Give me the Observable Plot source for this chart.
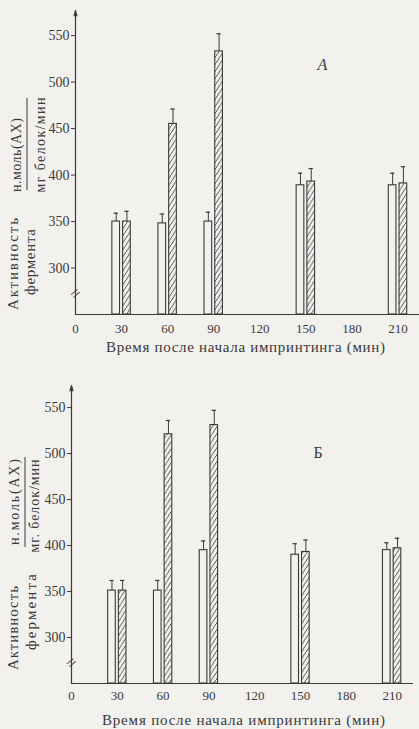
<!DOCTYPE html>
<html><head><meta charset="utf-8">
<script src="https://cdn.jsdelivr.net/npm/d3@7"></script>
<script src="https://cdn.jsdelivr.net/npm/@observablehq/plot@0.6"></script>
<style>
html,body{margin:0;padding:0;background:#f3f1ee;}
#chart svg{display:block;}
</style></head><body><div id="chart"></div>
<script>
// ---- data ----
const times = [30, 60, 90, 150, 210];
const xTicks = [0, 30, 60, 90, 120, 150, 180, 210];
const yTicks = [300, 350, 400, 450, 500, 550];
// Panel А
const openA = [350, 348, 350, 389, 389];
const openErrA = [9, 10, 10, 13, 13];
const hatchA = [350, 455, 533, 393, 391];
const hatchErrA = [11, 16, 19, 14, 18];
// Panel Б
const openB = [351, 351, 395, 390, 395];
const openErrB = [11, 11, 10, 12, 8];
const hatchB = [351, 521, 531, 393, 397];
const hatchErrB = [11, 15, 16, 13, 11];
const xTitle = "Время после начала импринтинга (мин)";
const yTitle1 = "Активность";
const yTitle2 = "фермента";
const numer = "н.моль(АХ)";
const denomA = "мг белок/мин";
const denomB = "мг. белок/мин";

const paper = "#f3f1ee";
const ink = "#3a3a3a";
const font = "'Liberation Serif', 'DejaVu Serif', serif";

function panel(cfg) {
  const base = 250;
  const rows = [];
  times.forEach((t, i) => {
    rows.push({t, kind: "open", v: cfg.open[i], e: cfg.openErr[i], c: t - 3.5});
    rows.push({t, kind: "hatch", v: cfg.hatch[i], e: cfg.hatchErr[i], c: t + 3.5});
  });
  const openRows = rows.filter(d => d.kind === "open");
  const hatchRows = rows.filter(d => d.kind === "hatch");
  const ml = cfg.ml, mt = cfg.mt;
  const svg = Plot.plot({
    width: 419,
    height: cfg.height,
    marginLeft: ml,
    marginRight: cfg.mr,
    marginTop: mt,
    marginBottom: cfg.height - cfg.baseY,
    style: {background: paper, color: ink, fontFamily: font, fontSize: "13px"},
    x: {domain: [0, 224], axis: null, label: null},
    y: {domain: [base, cfg.top], axis: null, label: null},
    marks: [
      Plot.ruleY([base], {stroke: ink, strokeWidth: 1.2}),
      Plot.arrow([0], {x1: 0, x2: 0, y1: base, y2: cfg.top, stroke: ink, strokeWidth: 1.2, headLength: 7, headAngle: 30}),
      Plot.rect(openRows, {x1: d => d.t - 6, x2: d => d.t - 1, y1: base, y2: "v", fill: paper, stroke: ink, strokeWidth: 1.1}),
      Plot.rect(hatchRows, {x1: d => d.t + 1, x2: d => d.t + 6, y1: base, y2: "v", fill: `url(#${cfg.id})`, stroke: ink, strokeWidth: 1.1}),
      Plot.ruleX(rows, {x: "c", y1: "v", y2: d => d.v + d.e, stroke: ink, strokeWidth: 1}),
      Plot.ruleY(rows, {y: d => d.v + d.e, x1: d => d.c - 1.4, x2: d => d.c + 1.4, stroke: ink, strokeWidth: 1.2}),
      Plot.text(["="], {x: 0, y: 272.5, text: d => d, rotate: -40, fontSize: 18, fill: ink}),
      Plot.axisY({ticks: yTicks, tickSize: 4, tickPadding: 2, fontSize: 14, stroke: ink, fill: ink, label: null}),
      Plot.axisX({ticks: xTicks, tickSize: 0, tickPadding: cfg.xPad, fontSize: 13, fill: ink, label: null}),
      Plot.text([cfg.letter], {frameAnchor: "top-left", dx: cfg.letterPos[0] - ml, dy: cfg.letterPos[1] - mt, fontSize: 16, fontStyle: cfg.italic ? "italic" : "normal", fill: ink})
    ]
  });
  const s = d3.select(svg);
  const defs = s.insert("defs", ":first-child");
  const p = defs.append("pattern").attr("id", cfg.id).attr("patternUnits", "userSpaceOnUse").attr("width", 4.5).attr("height", 7);
  p.append("rect").attr("width", 4.5).attr("height", 7).attr("fill", paper);
  p.append("path").attr("d", "M-1,8.556 L5.5,-1.556").attr("stroke", ink).attr("stroke-width", 0.9);
  s.append("line").attr("x1", cfg.line[0]).attr("x2", cfg.line[0]).attr("y1", cfg.line[1]).attr("y2", cfg.line[2]).attr("stroke", ink).attr("stroke-width", 1);
  const tg = s.append("g").attr("font-family", font).attr("fill", ink).attr("text-anchor", "middle");
  // x-axis title
  tg.append("text")
    .attr("x", cfg.xt[0]).attr("y", cfg.xt[1]).attr("dy", "0.35em")
    .attr("font-size", 15)
    .attr("textLength", cfg.xt[2]).attr("lengthAdjust", "spacing")
    .text(xTitle);
  // y-axis title (rotated)
  [[yTitle1, cfg.t1, 15], [yTitle2, cfg.t2, 15], [numer, cfg.num, 14], [cfg.denom, cfg.den, 14]].forEach(([txt, pos, fs]) => {
    tg.append("text")
      .attr("transform", `translate(${pos[0]},${pos[1]}) rotate(-90)`)
      .attr("dy", "0.35em")
      .attr("font-size", fs)
      .attr("textLength", pos[2])
      .attr("lengthAdjust", "spacing")
      .text(txt);
  });
  return svg;
}

const chart = document.getElementById("chart");
chart.appendChild(panel({
  id: "hatchA", height: 365, ml: 75, mr: 0, mt: 10, baseY: 314, top: 577,
  open: openA, openErr: openErrA, hatch: hatchA, hatchErr: hatchErrA,
  xPad: 9, xt: [245.5, 347, 279], letter: "А", italic: true, letterPos: [317, 58],
  t1: [13, 264, 92], t2: [30, 262, 66], num: [16, 155, 74], den: [40, 145, 95], denom: denomA,
  line: [27, 98, 190]
}));
chart.appendChild(panel({
  id: "hatchB", height: 364, ml: 71, mr: 6, mt: 20, baseY: 318, top: 574,
  open: openB, openErr: openErrB, hatch: hatchB, hatchErr: hatchErrB,
  xPad: 7, xt: [243.5, 355, 283], letter: "Б", italic: false, letterPos: [313, 81],
  t1: [13, 263, 84], t2: [31, 247, 76], num: [14, 137, 86], den: [34, 141, 93], denom: denomB,
  line: [25, 92, 182]
}));
</script>
</body></html>
